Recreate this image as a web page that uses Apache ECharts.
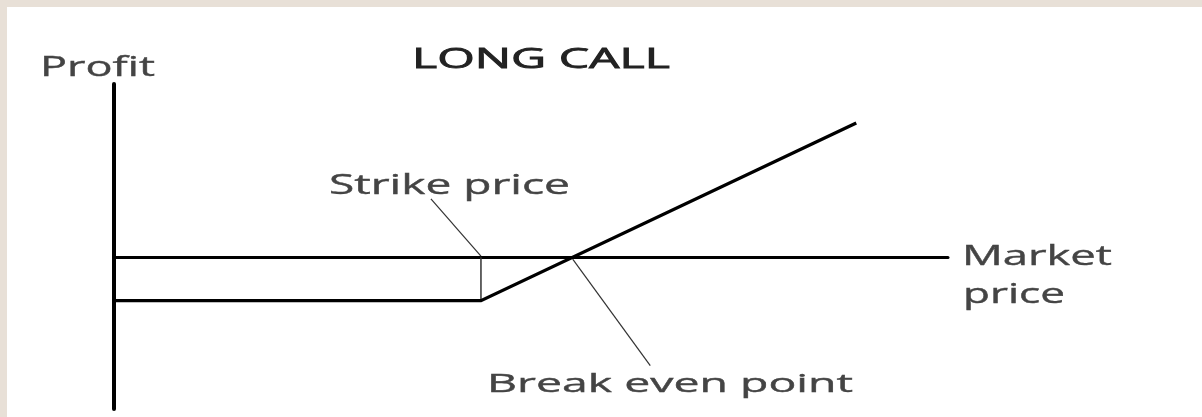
<!DOCTYPE html>
<html><head><meta charset="utf-8">
<script src="https://cdn.jsdelivr.net/npm/echarts@6/dist/echarts.min.js"></script>
<style>
html,body{margin:0;padding:0;background:#e8e0d7;overflow:hidden;width:1202px;height:417px}
#c{position:absolute;left:7px;top:7px;width:1195px;height:410px;background:#fff}
</style>
</head><body><div id="c"></div>
<script>
// ---- data ----
const chartTitle = 'LONG CALL';
const yAxisName = 'Profit';
const xAxisNameLines = ['Market', 'price'];
const strikeLabel = 'Strike price';
const breakEvenLabel = 'Break even point';
const payoffPrice = [0, 44, 89];
const payoffProfit = [-10, -10, 31];
const strikePrice = 44;
const premiumLoss = -10;
const strikeLeader = [[38, 13.5], [44, 0.3]];
const breakEvenLeader = [[55, -0.4], [64.3, -25]];

// ---- text helper (texts are horizontally stretched in the reference) ----
const mctx = document.createElement('canvas').getContext('2d');
function stretchedText(str, x, y, targetWidth, size, color, weight) {
  mctx.font = size + 'px "Open Sans"';
  const w = mctx.measureText(str).width;
  return {
    type: 'text', x: x, y: y, scaleX: targetWidth / w, scaleY: 1, silent: true,
    style: { text: str, fill: color, fontSize: size, fontFamily: 'Open Sans',
             stroke: color, lineWidth: weight,
             align: 'left', verticalAlign: 'middle' }
  };
}

const chart = echarts.init(document.getElementById('c'), null, { renderer: 'canvas' });
const payoff = payoffPrice.map((p, i) => [p, payoffProfit[i]]);

chart.setOption({
  animation: false,
  backgroundColor: '#ffffff',
  grid: { left: 107, right: 254, top: 77, bottom: 8 },
  xAxis: {
    type: 'value', min: 0, max: 100,
    axisLine: { show: true, onZero: true, lineStyle: { color: '#000', width: 3 } },
    axisTick: { show: false }, axisLabel: { show: false }, splitLine: { show: false }
  },
  yAxis: {
    type: 'value', min: -35, max: 40,
    axisLine: { show: true, onZero: false, lineStyle: { color: '#000', width: 4 } },
    axisTick: { show: false }, axisLabel: { show: false }, splitLine: { show: false }
  },
  series: [
    { type: 'line', data: payoff, symbol: 'none', z: 5,
      lineStyle: { color: '#000', width: 3.4, join: 'miter' } },
    { type: 'line', data: [[strikePrice, premiumLoss], [strikePrice, 0]], symbol: 'none',
      lineStyle: { color: '#333', width: 1.5 } },
    { type: 'line', data: strikeLeader, symbol: 'none',
      lineStyle: { color: '#333', width: 1.2 } },
    { type: 'line', data: breakEvenLeader, symbol: 'none',
      lineStyle: { color: '#333', width: 1.2 } }
  ],
  graphic: [
    stretchedText(yAxisName, 33, 61, 115, 28, '#444', 0.4),
    stretchedText(chartTitle, 405, 53, 258, 28, '#222', 0.8),
    stretchedText(strikeLabel, 322, 179, 241, 27, '#444', 0.4),
    stretchedText(xAxisNameLines[0], 955, 250, 150, 28, '#444', 0.4),
    stretchedText(xAxisNameLines[1], 956, 288, 102, 28, '#444', 0.4),
    stretchedText(breakEvenLabel, 480, 378, 366, 26, '#444', 0.4)
  ]
});
</script>
</body></html>
